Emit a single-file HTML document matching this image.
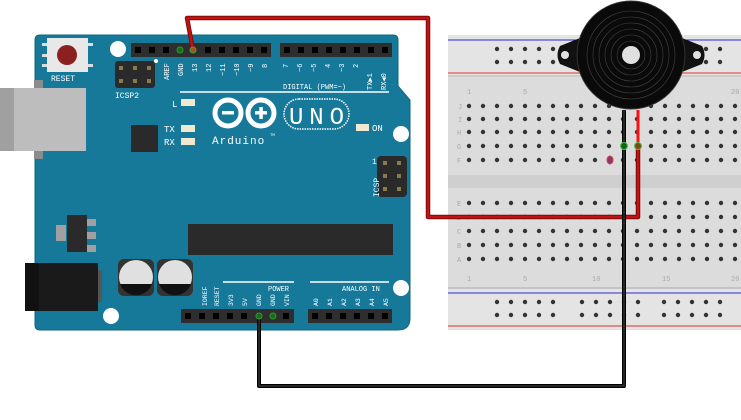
<!DOCTYPE html>
<html><head><meta charset="utf-8"><style>
html,body{margin:0;padding:0;background:#fff;width:741px;height:420px;overflow:hidden}
svg{display:block}
text{font-family:"Liberation Mono",monospace;fill:#fff}
</style></head><body>
<svg width="741" height="420" viewBox="0 0 741 420" xmlns="http://www.w3.org/2000/svg">
<defs>
<g id="row">
<circle cx="469" cy="0" r="2.2"/><circle cx="483" cy="0" r="2.2"/><circle cx="497" cy="0" r="2.2"/><circle cx="511" cy="0" r="2.2"/><circle cx="525" cy="0" r="2.2"/><circle cx="539" cy="0" r="2.2"/><circle cx="553" cy="0" r="2.2"/><circle cx="567" cy="0" r="2.2"/><circle cx="581" cy="0" r="2.2"/><circle cx="595" cy="0" r="2.2"/><circle cx="609" cy="0" r="2.2"/><circle cx="623" cy="0" r="2.2"/><circle cx="637" cy="0" r="2.2"/><circle cx="651" cy="0" r="2.2"/><circle cx="665" cy="0" r="2.2"/><circle cx="679" cy="0" r="2.2"/><circle cx="693" cy="0" r="2.2"/><circle cx="707" cy="0" r="2.2"/><circle cx="721" cy="0" r="2.2"/><circle cx="735" cy="0" r="2.2"/>
</g>
</defs>
<!-- Breadboard -->
<rect x="448" y="35" width="293" height="295" fill="#dcdcdc"/>
<rect x="448" y="35" width="293" height="40" fill="#e4e4e4"/>
<rect x="448" y="289" width="293" height="40" fill="#e4e4e4"/>
<line x1="448" y1="40" x2="741" y2="40" stroke="#2b2bd0" stroke-width="1"/>
<line x1="448" y1="73" x2="741" y2="73" stroke="#e03030" stroke-width="1"/>
<line x1="448" y1="293" x2="741" y2="293" stroke="#2b2bd0" stroke-width="1"/>
<line x1="448" y1="326" x2="741" y2="326" stroke="#e03030" stroke-width="1"/>
<line x1="448" y1="76" x2="741" y2="76" stroke="#bbb" stroke-width="1"/>
<line x1="448" y1="288" x2="741" y2="288" stroke="#aaa" stroke-width="1"/>
<rect x="448" y="175" width="293" height="13" fill="#cfcfcf"/>
<g fill="#333">
<g id="rail">
<circle cx="497" cy="49" r="2.2"/><circle cx="511" cy="49" r="2.2"/><circle cx="525" cy="49" r="2.2"/><circle cx="539" cy="49" r="2.2"/><circle cx="553" cy="49" r="2.2"/>
<circle cx="582" cy="49" r="2.2"/><circle cx="596" cy="49" r="2.2"/><circle cx="610" cy="49" r="2.2"/><circle cx="624" cy="49" r="2.2"/><circle cx="638" cy="49" r="2.2"/>
<circle cx="664" cy="49" r="2.2"/><circle cx="678" cy="49" r="2.2"/><circle cx="692" cy="49" r="2.2"/><circle cx="706" cy="49" r="2.2"/><circle cx="720" cy="49" r="2.2"/>
<circle cx="497" cy="62" r="2.2"/><circle cx="511" cy="62" r="2.2"/><circle cx="525" cy="62" r="2.2"/><circle cx="539" cy="62" r="2.2"/><circle cx="553" cy="62" r="2.2"/>
<circle cx="582" cy="62" r="2.2"/><circle cx="596" cy="62" r="2.2"/><circle cx="610" cy="62" r="2.2"/><circle cx="624" cy="62" r="2.2"/><circle cx="638" cy="62" r="2.2"/>
<circle cx="664" cy="62" r="2.2"/><circle cx="678" cy="62" r="2.2"/><circle cx="692" cy="62" r="2.2"/><circle cx="706" cy="62" r="2.2"/><circle cx="720" cy="62" r="2.2"/>
</g>
<use href="#rail" y="253"/>
<use href="#row" y="106"/><use href="#row" y="119"/><use href="#row" y="132"/><use href="#row" y="146"/><use href="#row" y="160"/>
<use href="#row" y="203"/><use href="#row" y="217"/><use href="#row" y="231"/><use href="#row" y="245"/><use href="#row" y="259"/>
</g>
<g font-family="Liberation Sans" font-size="7">
<text x="458" y="109" style="fill:#aaa">J</text><text x="458" y="122" style="fill:#aaa">I</text><text x="457" y="135" style="fill:#aaa">H</text><text x="457" y="149" style="fill:#aaa">G</text><text x="457" y="163" style="fill:#aaa">F</text>
<text x="457" y="206" style="fill:#aaa">E</text><text x="457" y="220" style="fill:#aaa">D</text><text x="457" y="234" style="fill:#aaa">C</text><text x="457" y="248" style="fill:#aaa">B</text><text x="457" y="262" style="fill:#aaa">A</text>
<text x="467" y="94" style="fill:#aaa">1</text><text x="523" y="94" style="fill:#aaa">5</text><text x="731" y="94" style="fill:#aaa">20</text>
<text x="467" y="281" style="fill:#aaa">1</text><text x="523" y="281" style="fill:#aaa">5</text><text x="592" y="281" style="fill:#aaa">10</text><text x="662" y="281" style="fill:#aaa">15</text><text x="731" y="281" style="fill:#aaa">20</text>
</g>
<ellipse cx="610" cy="160" rx="3" ry="4" fill="#8a3a6a" stroke="#d04050" stroke-width="1"/>

<!-- Arduino board -->
<path d="M40 35 H393 Q398 35 398 40 V86 L410 100 V318 Q410 330 398 330 H40 Q35 330 35 325 V40 Q35 35 40 35 Z" fill="#17799a" stroke="#0f6580" stroke-width="1"/>
<rect x="34" y="80" width="9" height="79" fill="#8c8c8c"/>
<rect x="0" y="88" width="86" height="63" fill="#bdbdbd"/>
<rect x="0" y="88" width="14" height="63" fill="#a0a0a0"/>
<rect x="42" y="43" width="8" height="3" fill="#ddd"/><rect x="42" y="54" width="8" height="3" fill="#ddd"/><rect x="42" y="64" width="8" height="3" fill="#ddd"/>
<rect x="86" y="43" width="7" height="3" fill="#ddd"/><rect x="86" y="64" width="7" height="3" fill="#ddd"/>
<rect x="47" y="38" width="41" height="34" fill="#e8e8e8"/>
<circle cx="67" cy="55" r="10" fill="#8a2020"/>
<text x="51" y="81" font-size="8">RESET</text>
<circle cx="118" cy="49" r="8" fill="#fff"/><circle cx="401" cy="134" r="8" fill="#fff"/><circle cx="111" cy="316" r="8" fill="#fff"/><circle cx="401" cy="288" r="8" fill="#fff"/>
<rect x="115" y="61" width="40" height="27" rx="3" fill="#2a2a2a"/>
<g fill="#8a7a50"><rect x="119" y="66" width="4" height="4"/><rect x="133" y="66" width="4" height="4"/><rect x="147" y="66" width="4" height="4"/><rect x="119" y="79" width="4" height="4"/><rect x="133" y="79" width="4" height="4"/><rect x="147" y="79" width="4" height="4"/></g>
<text x="115" y="98" font-size="8">ICSP2</text>
<circle cx="156" cy="61" r="2" fill="#fff"/>
<rect x="131" y="43" width="140" height="14" fill="#2e2e2e"/>
<rect x="280" y="43" width="112" height="14" fill="#2e2e2e"/>
<g fill="#000">
<rect x="135" y="47" width="6" height="6"/><rect x="149" y="47" width="6" height="6"/><rect x="163" y="47" width="6" height="6"/><rect x="205" y="47" width="6" height="6"/><rect x="219" y="47" width="6" height="6"/><rect x="233" y="47" width="6" height="6"/><rect x="247" y="47" width="6" height="6"/><rect x="261" y="47" width="6" height="6"/>
<rect x="284" y="47" width="6" height="6"/><rect x="298" y="47" width="6" height="6"/><rect x="312" y="47" width="6" height="6"/><rect x="326" y="47" width="6" height="6"/><rect x="340" y="47" width="6" height="6"/><rect x="354" y="47" width="6" height="6"/><rect x="368" y="47" width="6" height="6"/><rect x="382" y="47" width="6" height="6"/>
</g>
<circle cx="180" cy="50" r="3" fill="#1a6a1a" stroke="#2a9a2a"/>
<g font-size="7">
<text transform="translate(169,80) rotate(-90)">AREF</text>
<text transform="translate(183,76) rotate(-90)">GND</text>
<text transform="translate(197,72) rotate(-90)">13</text>
<text transform="translate(211,72) rotate(-90)">12</text>
<text transform="translate(225,76) rotate(-90)">~11</text>
<text transform="translate(239,76) rotate(-90)">~10</text>
<text transform="translate(253,72) rotate(-90)">~9</text>
<text transform="translate(267,68) rotate(-90)">8</text>
<text transform="translate(288,68) rotate(-90)">7</text>
<text transform="translate(302,72) rotate(-90)">~6</text>
<text transform="translate(316,72) rotate(-90)">~5</text>
<text transform="translate(330,68) rotate(-90)">4</text>
<text transform="translate(344,72) rotate(-90)">~3</text>
<text transform="translate(358,68) rotate(-90)">2</text>
<text transform="translate(372,90) rotate(-90)">TX▶1</text>
<text transform="translate(386,90) rotate(-90)">RX◀0</text>
</g>
<text x="283" y="89" font-size="7">DIGITAL (PWM=~)</text>
<line x1="180" y1="92" x2="389" y2="92" stroke="#fff" stroke-width="1.5"/>
<text x="172" y="107" font-size="9">L</text><rect x="181" y="99" width="14" height="7" fill="#f0e8d0"/>
<text x="164" y="132" font-size="9">TX</text><rect x="181" y="125" width="14" height="7" fill="#f0e8d0"/>
<text x="164" y="145" font-size="9">RX</text><rect x="181" y="138" width="14" height="7" fill="#f0e8d0"/>
<rect x="356" y="124" width="13" height="7" fill="#f0e8d0"/><text x="372" y="131" font-size="9">ON</text>
<rect x="131" y="125" width="27" height="27" fill="#2a2a2a"/>
<circle cx="228" cy="113" r="13" fill="none" stroke="#fff" stroke-width="5"/>
<circle cx="261" cy="113" r="13" fill="none" stroke="#fff" stroke-width="5"/>
<rect x="222" y="111" width="12" height="3.5" fill="#fff"/>
<rect x="255" y="111" width="12" height="3.5" fill="#fff"/><rect x="259.3" y="107" width="3.5" height="12" fill="#fff"/>
<rect x="284" y="99" width="65" height="30" rx="15" fill="none" stroke="#fff" stroke-width="1.5" stroke-dasharray="1.5 1"/>
<text x="289" y="124" font-family="Liberation Sans" font-size="24" textLength="55">UNO</text>
<text x="212" y="144" font-size="11" letter-spacing="1">Arduino</text>
<text x="270" y="136" font-size="4">TM</text>
<text x="372" y="164" font-size="8">1</text>
<rect x="377" y="156" width="30" height="41" rx="4" fill="#2a2a2a"/>
<g fill="#8a7a50"><rect x="383" y="161" width="4" height="4"/><rect x="397" y="161" width="4" height="4"/><rect x="383" y="174" width="4" height="4"/><rect x="397" y="174" width="4" height="4"/><rect x="383" y="187" width="4" height="4"/><rect x="397" y="187" width="4" height="4"/></g>
<text transform="translate(379,197) rotate(-90)" font-size="8">ICSP</text>
<rect x="188" y="224" width="205" height="31" fill="#2a2a2a"/>
<rect x="56" y="225" width="10" height="16" fill="#a0a0a0"/>
<rect x="85" y="219" width="11" height="7" fill="#a0a0a0"/><rect x="85" y="232" width="11" height="7" fill="#a0a0a0"/><rect x="85" y="245" width="11" height="7" fill="#a0a0a0"/>
<rect x="67" y="215" width="20" height="37" fill="#2a2a2a"/>
<rect x="96" y="270" width="6" height="32" fill="#555"/>
<rect x="25" y="263" width="73" height="48" fill="#1a1a1a"/>
<rect x="25" y="263" width="14" height="48" fill="#111"/>
<rect x="118" y="259" width="36" height="37" rx="6" fill="#333"/>
<rect x="157" y="259" width="36" height="37" rx="6" fill="#333"/>
<circle cx="136" cy="277" r="17" fill="#e0e0e0"/><circle cx="175" cy="277" r="17" fill="#e0e0e0"/>
<path d="M120 284 A17 17 0 0 0 152 284 Z" fill="#111"/>
<path d="M159 284 A17 17 0 0 0 191 284 Z" fill="#111"/>
<line x1="223" y1="282" x2="294" y2="282" stroke="#fff" stroke-width="1.5"/>
<line x1="310" y1="282" x2="389" y2="282" stroke="#fff" stroke-width="1.5"/>
<text x="268" y="291" font-size="7">POWER</text>
<text x="342" y="291" font-size="7">ANALOG IN</text>
<g font-size="6.5">
<text transform="translate(207,306) rotate(-90)">IOREF</text>
<text transform="translate(219,306) rotate(-90)">RESET</text>
<text transform="translate(233,306) rotate(-90)">3V3</text>
<text transform="translate(247,306) rotate(-90)">5V</text>
<text transform="translate(261,306) rotate(-90)">GND</text>
<text transform="translate(275,306) rotate(-90)">GND</text>
<text transform="translate(289,306) rotate(-90)">VIN</text>
<text transform="translate(318,306) rotate(-90)">A0</text>
<text transform="translate(332,306) rotate(-90)">A1</text>
<text transform="translate(346,306) rotate(-90)">A2</text>
<text transform="translate(360,306) rotate(-90)">A3</text>
<text transform="translate(374,306) rotate(-90)">A4</text>
<text transform="translate(388,306) rotate(-90)">A5</text>
</g>
<rect x="181" y="309" width="113" height="14" fill="#2e2e2e"/>
<rect x="308" y="309" width="84" height="14" fill="#2e2e2e"/>
<g fill="#000">
<rect x="185" y="313" width="6" height="6"/><rect x="199" y="313" width="6" height="6"/><rect x="213" y="313" width="6" height="6"/><rect x="227" y="313" width="6" height="6"/><rect x="241" y="313" width="6" height="6"/><rect x="283" y="313" width="6" height="6"/>
<rect x="312" y="313" width="6" height="6"/><rect x="326" y="313" width="6" height="6"/><rect x="340" y="313" width="6" height="6"/><rect x="354" y="313" width="6" height="6"/><rect x="368" y="313" width="6" height="6"/><rect x="382" y="313" width="6" height="6"/>
</g>
<circle cx="273" cy="316" r="3" fill="#1a6a1a" stroke="#2a9a2a"/>

<!-- Buzzer -->
<path d="M560 46 Q555 55 560 64 L580 72 L580 38 Z" fill="#111"/>
<path d="M702 46 Q707 55 702 64 L682 72 L682 38 Z" fill="#111"/>
<rect x="565" y="42" width="132" height="26" rx="12" fill="#111"/>
<circle cx="565" cy="55" r="4" fill="#e0e0e0"/><circle cx="697" cy="55" r="4" fill="#e0e0e0"/>
<circle cx="631" cy="55" r="54" fill="#0a0a0a" stroke="#333" stroke-width="1"/>
<g fill="none" stroke="#444" stroke-width="0.6">
<circle cx="631" cy="55" r="44"/><circle cx="631" cy="55" r="38"/><circle cx="631" cy="55" r="32"/><circle cx="631" cy="55" r="26"/><circle cx="631" cy="55" r="20"/><circle cx="631" cy="55" r="14"/>
</g>
<circle cx="631" cy="55" r="9" fill="#e0e0e0"/>

<!-- Wires -->
<polyline points="193,50 187,18 428,18 428,217 638,217 638,146" fill="none" stroke="#7a0a0a" stroke-width="4.5" stroke-linejoin="round"/>
<polyline points="193,50 187,18 428,18 428,217 638,217 638,146" fill="none" stroke="#c41212" stroke-width="2.5" stroke-linejoin="round"/>
<line x1="638" y1="110" x2="638" y2="146" stroke="#ff1010" stroke-width="3"/>
<polyline points="259,317 259,386 624,386 624,110" fill="none" stroke="#000" stroke-width="4" stroke-linejoin="round"/>
<polyline points="259,317 259,386 624,386 624,110" fill="none" stroke="#333" stroke-width="1.5" stroke-linejoin="round"/>
<circle cx="193" cy="50" r="3" fill="#b05010" stroke="#40a040"/>
<circle cx="259" cy="316" r="3" fill="#1a6a1a" stroke="#2a9a2a"/>
<circle cx="624" cy="146" r="3.5" fill="#116611" stroke="#55bb55"/>
<circle cx="638" cy="146" r="3.5" fill="#7a4a10" stroke="#55bb55"/>
</svg>
</body></html>
